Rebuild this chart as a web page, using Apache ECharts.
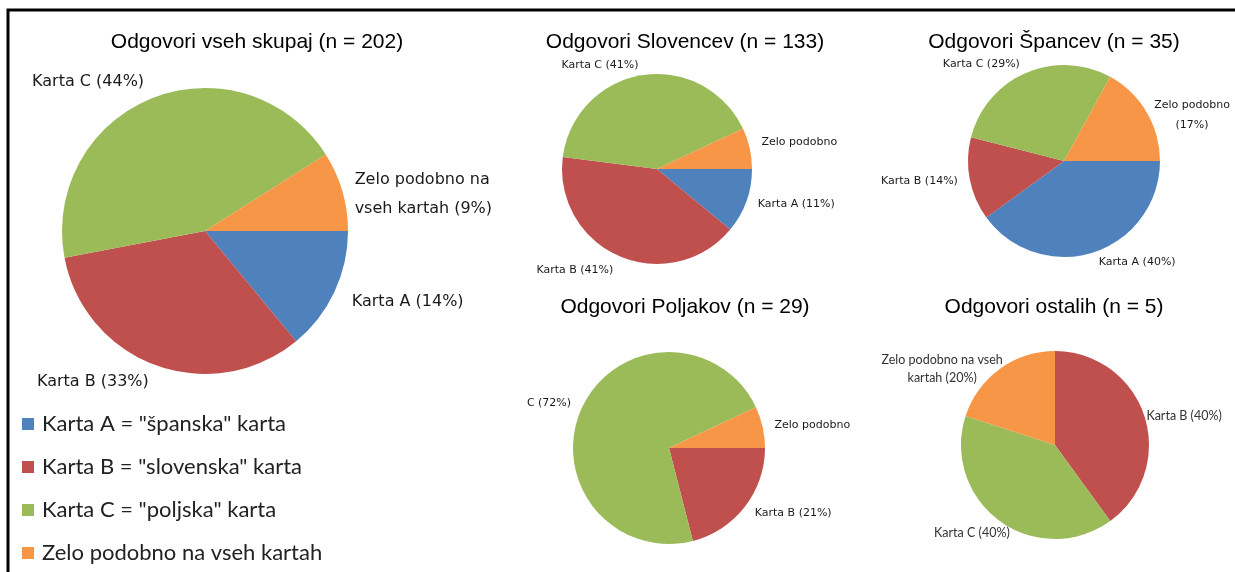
<!DOCTYPE html>
<html>
<head>
    <meta charset="utf-8" />
    <title>Odgovori - zemljevidi</title>
    <script src="https://cdn.jsdelivr.net/npm/echarts@6/dist/echarts.min.js"></script>
    <style>
        body { margin: 0; background: #fff; }
    </style>
</head>
<body>
<div id="main" style="width:1235px;height:572px;"></div>

<script type="text/javascript">
    // kategorije (imena za legendo) in barve
    var categories = ['Karta A', 'Karta B', 'Karta C', 'Zelo podobno na vseh kartah'];
    var legendText = ['Karta A = "španska" karta', 'Karta B = "slovenska" karta',
                      'Karta C = "poljska" karta', 'Zelo podobno na vseh kartah'];
    var colors = ['#4F81BD', '#C0504D', '#9BBB59', '#F79646'];

    // deleži v %, vrstni red A, B, C, Zelo podobno
    var titles = ['Odgovori vseh skupaj (n = 202)', 'Odgovori Slovencev (n = 133)',
                  'Odgovori Špancev (n = 35)', 'Odgovori Poljakov (n = 29)', 'Odgovori ostalih (n = 5)'];
    var valsAll = [14, 33, 44, 9];
    var valsSlo = [11, 41, 41, 7];
    var valsSpa = [40, 14, 29, 17];
    var valsPol = [0, 21, 72, 7];
    var valsOst = [0, 40, 40, 20];

    var labAll = ['Karta A (14%)', 'Karta B (33%)', 'Karta C (44%)', 'Zelo podobno na\nvseh kartah (9%)'];
    var labSlo = ['Karta A (11%)', 'Karta B (41%)', 'Karta C (41%)', 'Zelo podobno'];
    var labSpa = ['Karta A (40%)', 'Karta B (14%)', 'Karta C (29%)', 'Zelo podobno\n(17%)'];
    var labPol = ['', 'Karta B (21%)', 'C (72%)', 'Zelo podobno'];
    var labOst = ['', 'Karta B (40%)', 'Karta C (40%)', 'Zelo podobno na vseh\nkartah (20%)'];

    function makeData(vals, labs) {
        var out = [];
        for (var i = 0; i < vals.length; i++) {
            if (!vals[i]) continue;   // prazne rezine ne rišemo
            out.push({ name: categories[i], value: vals[i], lab: labs[i],
                       itemStyle: { color: colors[i] } });
        }
        return out;
    }

    // manjši premiki napisov, kot jih postavi Excel (po indeksu rezine)
    function nudge(map) {
        return function (p) { return map[p.dataIndex] || {}; };
    }

    // o = {font, size, color, lh, len, centered, nudge}
    function pie(name, center, radius, start, vals, labs, o) {
        var txt = { fontFamily: o.font, fontSize: o.size, color: o.color, lineHeight: o.lh };
        return {
            name: name,
            type: 'pie',
            center: center,
            radius: radius,
            startAngle: start,
            clockwise: true,
            avoidLabelOverlap: false,
            silent: true,
            itemStyle: { borderWidth: 0 },
            label: {
                show: true,
                position: 'outside',
                formatter: function (p) {
                    if (!o.centered) return p.data.lab;
                    // vrstice poravnane na sredino
                    return p.data.lab.split('\n').map(function (l) { return '{c|' + l + '}'; }).join('\n');
                },
                fontFamily: o.font,
                fontSize: o.size,
                color: o.color,
                lineHeight: o.lh,
                distanceToLabelLine: 2,
                rich: { c: Object.assign({ align: 'center' }, txt) }
            },
            labelLine: { show: false, length: o.len, length2: 0 },
            labelLayout: nudge(o.nudge || {}),
            data: makeData(vals, labs)
        };
    }

    var titleTop = [27, 27, 27, 292, 292];
    var titleX = [252, 680, 1049, 680, 1049];
    var titleOpts = titles.map(function (t, i) {
        return {
            text: t,
            left: titleX[i],
            top: titleTop[i],
            textAlign: 'center',
            textStyle: { fontFamily: 'Liberation Sans', fontWeight: 'normal', fontSize: 21, color: '#000' }
        };
    });

    var small = { font: 'DejaVu Sans', size: 11, color: '#1a1a1a', lh: 20, len: 10 };

    var myChart = echarts.init(document.getElementById('main'));
    var option = {
        animation: false,
        backgroundColor: '#fff',
        title: titleOpts,
        legend: {
            orient: 'vertical',
            left: 17,
            top: 408,
            icon: 'rect',
            itemWidth: 12,
            itemHeight: 12,
            itemGap: 21,
            data: categories,
            formatter: function (n) { return legendText[categories.indexOf(n)]; },
            textStyle: { fontFamily: 'Lato', fontSize: 22, lineHeight: 22, color: '#222', padding: [0, 0, 0, 3] }
        },
        graphic: [
            {   // okvir slike (zgoraj in levo)
                type: 'polyline',
                shape: { points: [[8, 572], [8, 10], [1235, 10]] },
                style: { stroke: '#000', lineWidth: 3, fill: null }
            }
        ],
        series: [
            pie(titles[0], [205, 231], 143, 0, valsAll, labAll,
                { font: 'DejaVu Sans', size: 16, color: '#1a1a1a', lh: 29, len: 17,
                  nudge: { 3: { dx: -6, dy: 8 }, 0: { dy: 3 } } }),
            pie(titles[1], [657, 169], 95, 0, valsSlo, labSlo,
                Object.assign({}, small, { nudge: { 1: { dy: 5 }, 3: { dy: -4 } } })),
            pie(titles[2], [1064, 161], 96, 0, valsSpa, labSpa,
                Object.assign({}, small, { centered: true, nudge: { 3: { dx: -3, dy: 8 } } })),
            pie(titles[3], [669, 448], 96, 0, valsPol, labPol, small),
            pie(titles[4], [1055, 445], 94, 90, valsOst, labOst,
                { font: 'Lato', size: 12.5, color: '#333', lh: 18, len: 0, centered: true,
                  nudge: { 1: { dx: 12, dy: 12 }, 2: { dx: 5 } } })
        ]
    };

    myChart.setOption(option);
</script>
</body>
</html>
